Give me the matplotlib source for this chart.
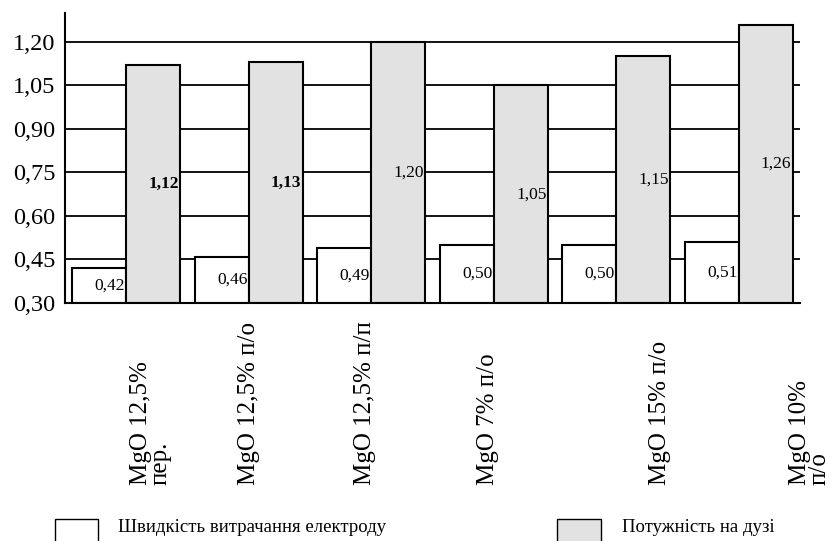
import matplotlib.pyplot as plt
from matplotlib.patches import Rectangle
import numpy as np

plt.rcParams['font.family'] = ['Liberation Serif', 'DejaVu Serif']

categories = ['MgO 12,5%\nпер.', 'MgO 12,5% п/о', 'MgO 12,5% п/п',
              'MgO 7% п/о', 'MgO 15% п/о', 'MgO 10%\nп/о']
electrode_rate = [0.42, 0.46, 0.49, 0.50, 0.50, 0.51]
arc_power = [1.12, 1.13, 1.20, 1.05, 1.15, 1.26]
power_bold = [True, True, False, False, False, False]
yticks = [0.30, 0.45, 0.60, 0.75, 0.90, 1.05, 1.20]

y0 = 0.30
width = 0.44
gray = '#e2e2e2'
# horizontal shift of each rotated category label relative to its group
label_shift = [0.2, 0.0, -0.05, -0.05, 0.36, 0.58]


def fmt(v):
    return f'{v:.2f}'.replace('.', ',')


def main():
    fig = plt.figure(figsize=(8.39, 5.41), dpi=100)
    ax = fig.add_axes([0.0775, 0.44, 0.876, 0.536])

    x = np.arange(len(categories))
    for y in yticks[1:]:
        ax.axhline(y, color='black', lw=1.3, zorder=1)

    ax.bar(x - width / 2, np.array(electrode_rate) - y0, width, bottom=y0,
           color='white', edgecolor='black', lw=1.5, zorder=2)
    ax.bar(x + width / 2, np.array(arc_power) - y0, width, bottom=y0,
           color=gray, edgecolor='black', lw=1.5, zorder=2)

    for xi, v in zip(x, electrode_rate):
        ax.text(xi - 0.01, (y0 + v) / 2, fmt(v), ha='right', va='center',
                fontsize=12.5, zorder=3)
    for xi, v, bold in zip(x, arc_power, power_bold):
        ax.text(xi + width - 0.01, (y0 + v) / 2, fmt(v), ha='right', va='center',
                fontsize=12.5, fontweight='bold' if bold else 'normal', zorder=3)

    ax.set_xlim(-0.5, 5.5)
    ax.set_ylim(0.30, 1.30)
    ax.set_yticks(yticks)
    ax.set_yticklabels([fmt(v) for v in yticks], fontsize=17.5)
    ax.tick_params(axis='y', length=0, pad=7)
    ax.set_xticks([])
    ax.spines['top'].set_visible(False)
    ax.spines['right'].set_visible(False)
    ax.spines['left'].set_linewidth(1.5)
    ax.spines['bottom'].set_linewidth(1.5)

    # rotated category labels under the axis
    trans = ax.get_xaxis_transform()
    for xi, lab, dx in zip(x, categories, label_shift):
        ax.text(xi + dx, -0.628, lab, rotation=90, ha='center', va='bottom',
                multialignment='left', fontsize=18, transform=trans,
                linespacing=0.85)

    # legend drawn along the bottom edge
    fig.patches.append(Rectangle((55 / 839, -0.01), 43 / 839, 27 / 541,
                                 transform=fig.transFigure, facecolor='white',
                                 edgecolor='black', lw=1.0))
    fig.text(118 / 839, 14 / 541, 'Швидкість витрачання електроду',
             fontsize=13.5, va='center')
    fig.patches.append(Rectangle((557 / 839, -0.01), 44 / 839, 27 / 541,
                                 transform=fig.transFigure, facecolor=gray,
                                 edgecolor='black', lw=1.0))
    fig.text(622 / 839, 14 / 541, 'Потужність на дузі', fontsize=13.5, va='center')

    fig.savefig('out.png', dpi=100)


if __name__ == '__main__':
    main()
